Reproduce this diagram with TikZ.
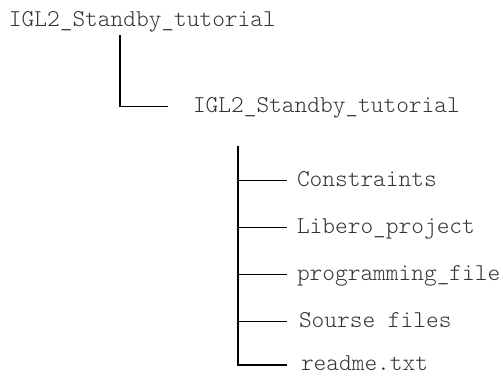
\documentclass[tikz,border=0pt]{standalone}
\usetikzlibrary{positioning}
\definecolor{foldertext}{rgb}{0.2, 0.2, 0.2}

\begin{document}
\begin{tikzpicture}[x=1pt,y=-1pt,
    folder/.style={rectangle, anchor=west, inner sep=0pt, outer sep=0pt, text height=14pt, text depth=3pt, font=\fontseries{l}\ttfamily\fontsize{24.2}{24}\selectfont, foldertext},
    branch/.style={line width=1.8pt, black}]
    \useasboundingbox (0,0) rectangle (503,376);
    % Mapparna
    \node (root) [folder] at (9,20.5) {IGL2\_Standby\_tutorial};
    \node (sub) [folder] at (193,106.5) {IGL2\_Standby\_tutorial};
    \node (constraints) [folder] at (297,180.5) {Constraints};
    \node (libero) [folder] at (297,227.5) {Libero\_project};
    \node (programming) [folder] at (297,274.5) {programming\_file};
    \node (sourse) [folder] at (299,321.5) {Sourse files};
    \node (readme) [folder] at (301,365) {readme.txt};
    % Stammar
    \coordinate (trunkA) at (120,35);
    \coordinate (trunkB) at (238,146);
    % Grenarna
    \draw [branch] (trunkA) |- ([xshift=-25pt]sub.west);
    \draw [branch] (trunkB) |- ([xshift=-10pt]constraints.west);
    \draw [branch] (trunkB) |- ([xshift=-10pt]libero.west);
    \draw [branch] (trunkB) |- ([xshift=-10pt]programming.west);
    \draw [branch] (trunkB) |- ([xshift=-12pt]sourse.west);
    \draw [branch] (trunkB) |- ([xshift=-14pt]readme.west);
\end{tikzpicture}
\end{document}
